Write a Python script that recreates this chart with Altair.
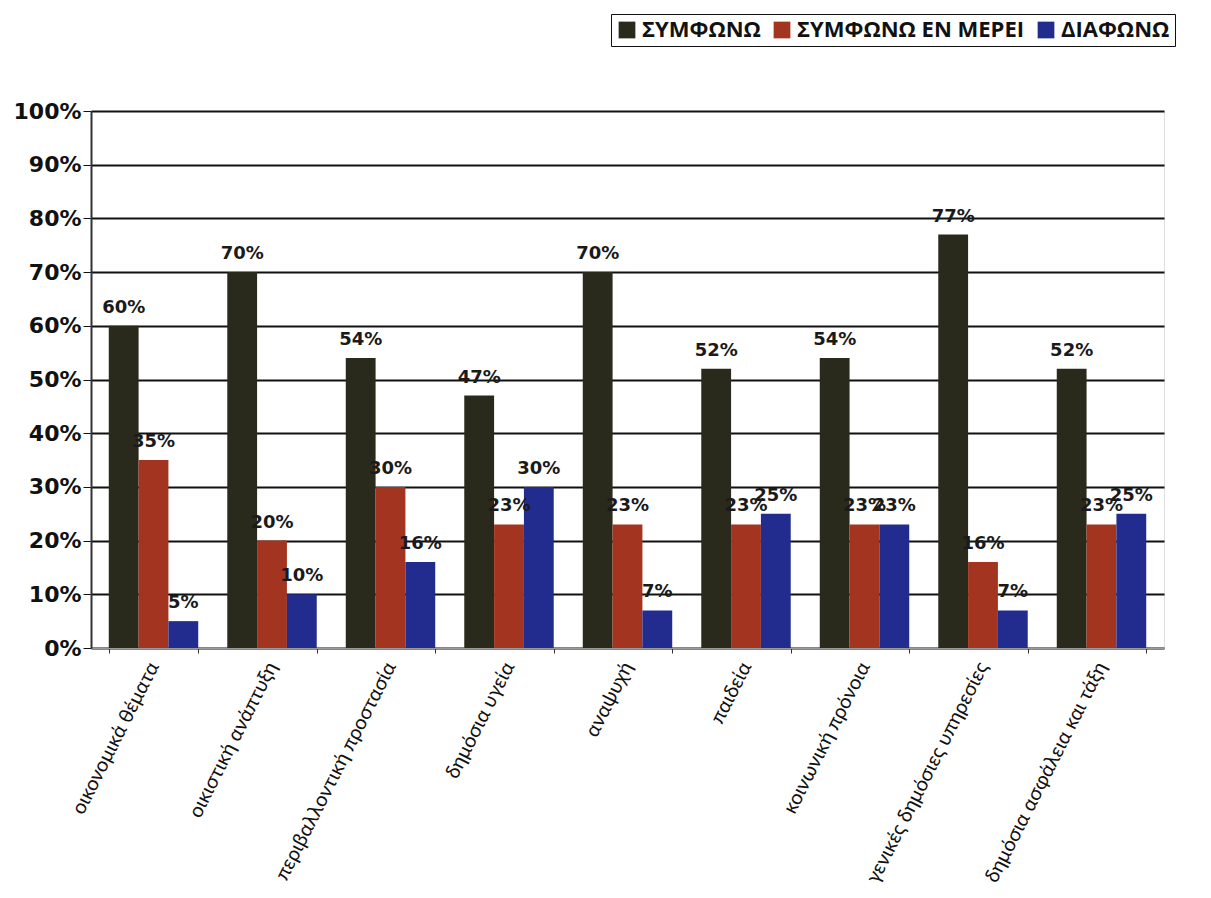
import altair as alt
import pandas as pd

categories = [
    "οικονομικά θέματα",
    "οικιστική ανάπτυξη",
    "περιβαλλοντική προστασία",
    "δημόσια υγεία",
    "αναψυχή",
    "παιδεία",
    "κοινωνική πρόνοια",
    "γενικές δημόσιες υπηρεσίες",
    "δημόσια ασφάλεια και τάξη",
]
series = ["ΣΥΜΦΩΝΩ", "ΣΥΜΦΩΝΩ ΕΝ ΜΕΡΕΙ", "ΔΙΑΦΩΝΩ"]
agree = [60, 70, 54, 47, 70, 52, 54, 77, 52]
partly = [35, 20, 30, 23, 23, 23, 23, 16, 23]
disagree = [5, 10, 16, 30, 7, 25, 23, 7, 25]
colors = ["#2a2a1c", "#a3341f", "#222c8e"]

rows = []
for i, c in enumerate(categories):
    for s, vals in zip(series, [agree, partly, disagree]):
        rows.append({"cat": c, "series": s, "value": vals[i], "label": f"{vals[i]}%"})
df = pd.DataFrame(rows)

x = alt.X("cat:N", sort=categories, title=None,
          scale=alt.Scale(paddingInner=0.245, paddingOuter=0.15),
          axis=alt.Axis(labelAngle=-63, labelFont="Lato", labelFontSize=20,
                        labelColor="#111", labelAlign="right", labelBaseline="middle",
                        labelPadding=10, tickBand="extent", tickColor="#333",
                        domainColor="#999", labelLimit=400))
y = alt.Y("value:Q", title=None,
          scale=alt.Scale(domain=[0, 100], nice=False),
          axis=alt.Axis(values=list(range(0, 101, 10)), labelExpr="datum.value + '%'",
                        labelFont="DejaVu Sans", labelFontWeight="bold", labelFontSize=22,
                        labelColor="#111", grid=True, gridColor="#111", gridWidth=2,
                        domainColor="#333", domainWidth=2, tickColor="#111", tickSize=8))
xo = alt.XOffset("series:N", sort=series)
color = alt.Color("series:N", sort=series,
                  scale=alt.Scale(domain=series, range=colors),
                  legend=alt.Legend(title=None, orient="none", legendX=520, legendY=-97,
                                    direction="horizontal", columns=3,
                                    symbolType="square", symbolSize=280,
                                    symbolStrokeWidth=0,
                                    labelFont="Open Sans", labelFontWeight="bold",
                                    labelFontSize=22, labelColor="#111", labelLimit=400,
                                    strokeColor="#111", padding=5,
                                    columnPadding=10, labelOffset=4))

bars = alt.Chart(df).mark_bar().encode(x=x, xOffset=xo, y=y, color=color)
text = alt.Chart(df).mark_text(font="DejaVu Sans", fontWeight="bold", fontSize=18,
                               baseline="bottom", dy=-9, color="#1a1a1a").encode(
    x=alt.X("cat:N", sort=categories), xOffset=xo, y="value:Q", text="label:N")

chart = (bars + text).properties(
    width=1073, height=537,
).configure_view(fill="#d0d1da", stroke="#888").configure(background="white")

chart.save("out.html", embed_options={"renderer": "svg", "actions": False})
